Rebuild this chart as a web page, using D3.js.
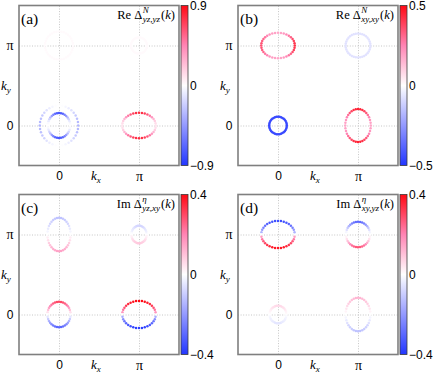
<!DOCTYPE html>
<html>
<head>
<meta charset="utf-8">
<script src="https://cdn.jsdelivr.net/npm/d3@7"></script>
<style>
  body { margin: 0; background: #fff; }
  svg text { font-family: "Liberation Sans", Arial, sans-serif; }
</style>
</head>
<body>
<svg id="chart" width="436" height="374"></svg>
<script>
/*
 * Data
 *****************************/
const panelIds = ["(a)", "(b)", "(c)", "(d)"];
const titleParts = ["Re", "Re", "Im", "Im"];
const titleSups = ["N", "N", "η", "η"];
const titleSubs = ["yz,yz", "xy,xy", "yz,xy", "xy,yz"];
const colorMax = [0.9, 0.5, 0.4, 0.4];
const kTicks = [0, 1];              // in units of pi
const kTickLabels = ["0", "π"];

// gap values along each pocket, every 10 degrees starting at +kx, counter clockwise
// panel (a)
const a_G_outer = [-0.32,-0.31,-0.28,-0.24,-0.19,-0.13,-0.08,-0.04,-0.01,0,-0.01,-0.04,-0.08,-0.13,-0.19,-0.24,-0.28,-0.31,
                   -0.32,-0.31,-0.28,-0.24,-0.19,-0.13,-0.08,-0.04,-0.01,0,-0.01,-0.04,-0.08,-0.13,-0.19,-0.24,-0.28,-0.31];
const a_G_inner = [0,-0.02,-0.09,-0.19,-0.31,-0.44,-0.56,-0.66,-0.73,-0.75,-0.73,-0.66,-0.56,-0.44,-0.31,-0.19,-0.09,-0.02,
                   0,-0.02,-0.09,-0.19,-0.31,-0.44,-0.56,-0.66,-0.73,-0.75,-0.73,-0.66,-0.56,-0.44,-0.31,-0.19,-0.09,-0.02];
const a_X = [0.1,0.12,0.18,0.27,0.38,0.5,0.61,0.7,0.76,0.78,0.76,0.7,0.61,0.5,0.38,0.27,0.18,0.12,
             0.1,0.12,0.18,0.27,0.38,0.5,0.61,0.7,0.76,0.78,0.76,0.7,0.61,0.5,0.38,0.27,0.18,0.12];
const a_Y = [0.02,0.02,0.02,0.02,0.02,0.02,0.02,0.02,0.02,0.02,0.02,0.02,0.02,0.02,0.02,0.02,0.02,0.02,
             0.02,0.02,0.02,0.02,0.02,0.02,0.02,0.02,0.02,0.02,0.02,0.02,0.02,0.02,0.02,0.02,0.02,0.02];
const a_M = [0.02,0.02,0.02,0.02,0.02,0.02,0.02,0.02,0.02,0.02,0.02,0.02,0.02,0.02,0.02,0.02,0.02,0.02,
             0.02,0.02,0.02,0.02,0.02,0.02,0.02,0.02,0.02,0.02,0.02,0.02,0.02,0.02,0.02,0.02,0.02,0.02];
// panel (b)
const b_Y = [0.42,0.41,0.39,0.36,0.32,0.28,0.24,0.21,0.19,0.18,0.19,0.2,0.22,0.25,0.28,0.31,0.33,0.35,
             0.35,0.35,0.33,0.31,0.28,0.25,0.22,0.2,0.19,0.18,0.19,0.21,0.24,0.28,0.32,0.36,0.39,0.41];
const b_M = [-0.07,-0.07,-0.07,-0.07,-0.07,-0.07,-0.07,-0.07,-0.07,-0.07,-0.07,-0.07,-0.07,-0.07,-0.07,-0.07,-0.07,-0.07,
             -0.07,-0.07,-0.07,-0.07,-0.07,-0.07,-0.07,-0.07,-0.07,-0.07,-0.07,-0.07,-0.07,-0.07,-0.07,-0.07,-0.07,-0.07];
const b_G = [-0.45,-0.45,-0.45,-0.45,-0.45,-0.45,-0.45,-0.45,-0.45,-0.45,-0.45,-0.45,-0.45,-0.45,-0.45,-0.45,-0.45,-0.45,
             -0.45,-0.45,-0.45,-0.45,-0.45,-0.45,-0.45,-0.45,-0.45,-0.45,-0.45,-0.45,-0.45,-0.45,-0.45,-0.45,-0.45,-0.45];
const b_X = [0.18,0.19,0.21,0.25,0.29,0.34,0.38,0.42,0.44,0.45,0.44,0.42,0.38,0.34,0.29,0.25,0.21,0.19,
             0.18,0.19,0.21,0.25,0.29,0.34,0.38,0.42,0.44,0.45,0.44,0.42,0.38,0.34,0.29,0.25,0.21,0.19];
// panel (c)
const c_Y = [0,-0.02,-0.04,-0.06,-0.08,-0.09,-0.1,-0.11,-0.12,-0.12,-0.12,-0.11,-0.1,-0.09,-0.08,-0.06,-0.04,-0.02,
             0,0.03,0.05,0.08,0.1,0.12,0.13,0.14,0.15,0.15,0.15,0.14,0.13,0.12,0.1,0.08,0.05,0.03];
const c_M = [0,-0.01,-0.03,-0.04,-0.05,-0.06,-0.07,-0.08,-0.08,-0.08,-0.08,-0.08,-0.07,-0.06,-0.05,-0.04,-0.03,-0.01,
             0,0.02,0.03,0.05,0.06,0.07,0.08,0.08,0.09,0.09,0.09,0.08,0.08,0.07,0.06,0.05,0.03,0.02];
const c_G = [0,0.05,0.1,0.15,0.19,0.23,0.26,0.28,0.3,0.3,0.3,0.28,0.26,0.23,0.19,0.15,0.1,0.05,
             0,-0.05,-0.1,-0.15,-0.19,-0.23,-0.26,-0.28,-0.3,-0.3,-0.3,-0.28,-0.26,-0.23,-0.19,-0.15,-0.1,-0.05];
const c_X = [0,0.17,0.23,0.28,0.32,0.35,0.37,0.39,0.4,0.4,0.4,0.39,0.37,0.35,0.32,0.28,0.23,0.17,
             0,-0.16,-0.22,-0.27,-0.3,-0.33,-0.35,-0.37,-0.38,-0.38,-0.38,-0.37,-0.35,-0.33,-0.3,-0.27,-0.22,-0.16];
// panel (d)
const d_Y = [0,-0.15,-0.2,-0.25,-0.28,-0.31,-0.33,-0.34,-0.35,-0.35,-0.35,-0.34,-0.33,-0.31,-0.28,-0.25,-0.2,-0.15,
             0,0.16,0.22,0.27,0.3,0.33,0.35,0.37,0.38,0.38,0.38,0.37,0.35,0.33,0.3,0.27,0.22,0.16];
const d_M = [0,-0.02,-0.06,-0.11,-0.15,-0.2,-0.24,-0.27,-0.29,-0.3,-0.29,-0.27,-0.24,-0.2,-0.15,-0.11,-0.06,-0.02,
             0,0.02,0.05,0.1,0.14,0.19,0.23,0.25,0.27,0.28,0.27,0.25,0.23,0.19,0.14,0.1,0.05,0.02];
const d_G = [0,0.01,0.02,0.03,0.04,0.05,0.05,0.06,0.06,0.06,0.06,0.06,0.05,0.05,0.04,0.03,0.02,0.01,
             0,-0.01,-0.02,-0.03,-0.03,-0.04,-0.04,-0.05,-0.05,-0.05,-0.05,-0.05,-0.04,-0.04,-0.03,-0.03,-0.02,-0.01];
const d_X = [0,0.02,0.04,0.06,0.08,0.09,0.1,0.11,0.12,0.12,0.12,0.11,0.1,0.09,0.08,0.06,0.04,0.02,
             0,-0.02,-0.04,-0.06,-0.08,-0.09,-0.1,-0.11,-0.12,-0.12,-0.12,-0.11,-0.1,-0.09,-0.08,-0.06,-0.04,-0.02];

// pockets: panel, centre (kx, ky) and half axes (rx, ry), all in units of pi
const pockets = [
  { panel: 0, kx: 0, ky: 0, rx: 0.24, ry: 0.25, values: a_G_outer },
  { panel: 0, kx: 0, ky: 0, rx: 0.14, ry: 0.155, values: a_G_inner },
  { panel: 0, kx: 1, ky: 0, rx: 0.21, ry: 0.16, values: a_X },
  { panel: 0, kx: 0, ky: 1, rx: 0.175, ry: 0.175, values: a_Y },
  { panel: 0, kx: 1, ky: 1, rx: 0.1, ry: 0.1, values: a_M },
  { panel: 1, kx: 0, ky: 1, rx: 0.21, ry: 0.16, values: b_Y },
  { panel: 1, kx: 1, ky: 1, rx: 0.155, ry: 0.15, values: b_M },
  { panel: 1, kx: 0, ky: 0, rx: 0.11, ry: 0.11, values: b_G },
  { panel: 1, kx: 1, ky: 0, rx: 0.16, ry: 0.205, values: b_X },
  { panel: 2, kx: 0, ky: 1, rx: 0.145, ry: 0.21, values: c_Y },
  { panel: 2, kx: 1, ky: 1, rx: 0.095, ry: 0.11, values: c_M },
  { panel: 2, kx: 0, ky: 0, rx: 0.145, ry: 0.16, values: c_G },
  { panel: 2, kx: 1, ky: 0, rx: 0.21, ry: 0.17, values: c_X },
  { panel: 3, kx: 0, ky: 1, rx: 0.21, ry: 0.17, values: d_Y },
  { panel: 3, kx: 1, ky: 1, rx: 0.15, ry: 0.16, values: d_M },
  { panel: 3, kx: 0, ky: 0, rx: 0.105, ry: 0.11, values: d_G },
  { panel: 3, kx: 1, ky: 0, rx: 0.155, ry: 0.21, values: d_X }
];

/*
 * Layout
 *****************************/
const svg = d3.select("#chart");
const boxSize = 160;
const origins = [[19, 5.5], [238, 5.5], [19, 194.5], [238, 194.5]];
const cbGap = 2, cbWidth = 7;
const SERIF = '"Liberation Serif", "DejaVu Serif", serif';
const SANS = '"Liberation Sans", Arial, sans-serif';

const xScale = d3.scaleLinear().domain([-0.5, 1.5]).range([0, boxSize]);
const yScale = d3.scaleLinear().domain([-0.5, 1.5]).range([boxSize, 0]);

const colorStops = ["#2236ff", "#9399ff", "#ffffff", "#ff84b4", "#ff0a14"];
const colorFor = m => d3.scaleLinear()
  .domain([-m, -m / 2, 0, m / 2, m])
  .range(colorStops)
  .clamp(true);

const defs = svg.append("defs");

panelIds.forEach((label, p) => {
  const g = svg.append("g").attr("transform", `translate(${origins[p][0]},${origins[p][1]})`);
  const color = colorFor(colorMax[p]);

  // dotted grid at 0 and pi
  const gridX = g.append("g").attr("transform", `translate(0,${boxSize})`)
    .call(d3.axisBottom(xScale).tickValues(kTicks).tickSize(-boxSize).tickFormat(""));
  const gridY = g.append("g")
    .call(d3.axisLeft(yScale).tickValues(kTicks).tickSize(-boxSize).tickFormat(""));
  [gridX, gridY].forEach(a => {
    a.select(".domain").remove();
    a.selectAll("line").attr("stroke", "#c6c6c6").attr("stroke-dasharray", "1,1.6");
  });

  // pockets
  pockets.filter(d => d.panel === p).forEach(pk => {
    const n = pk.values.length;
    g.append("g").selectAll("circle")
      .data(pk.values)
      .join("circle")
      .attr("cx", (v, i) => xScale(pk.kx + pk.rx * Math.cos(2 * Math.PI * i / n)))
      .attr("cy", (v, i) => yScale(pk.ky + pk.ry * Math.sin(2 * Math.PI * i / n)))
      .attr("r", 1.25)
      .attr("fill", v => color(v));
  });

  // frame
  g.append("rect")
    .attr("width", boxSize).attr("height", boxSize)
    .attr("fill", "none").attr("stroke", "#7f7f7f").attr("stroke-width", 1.6);

  // tick labels
  const axX = g.append("g").attr("transform", `translate(0,${boxSize})`)
    .call(d3.axisBottom(xScale).tickValues(kTicks).tickSize(0).tickPadding(6)
      .tickFormat((d, i) => kTickLabels[i]));
  const axY = g.append("g")
    .call(d3.axisLeft(yScale).tickValues(kTicks).tickSize(0).tickPadding(5.5)
      .tickFormat((d, i) => kTickLabels[i]));
  [axX, axY].forEach(a => {
    a.select(".domain").remove();
    a.selectAll("text")
      .attr("fill", "#000")
      .style("font-family", d => d ? SERIF : SANS)
      .style("font-size", d => d ? "14px" : "12px");
  });

  // k_x, k_y
  const kx = g.append("text").attr("x", 72).attr("y", boxSize + 14.5)
    .style("font-family", SERIF).style("font-size", "13px").style("font-style", "italic");
  kx.append("tspan").text("k");
  kx.append("tspan").attr("dy", 2.5).style("font-size", "9px").text("x");
  const ky = g.append("text").attr("x", -18).attr("y", 84)
    .style("font-family", SERIF).style("font-size", "13px").style("font-style", "italic");
  ky.append("tspan").text("k");
  ky.append("tspan").attr("dy", 3).style("font-size", "9px").text("y");

  // panel label
  g.append("text").attr("x", 2).attr("y", 18)
    .style("font-family", SERIF).style("font-size", "15.5px")
    .text(label);

  // title: Re/Im Delta^sup_sub(k), right aligned
  const tg = g.append("g");
  const t1 = tg.append("text").attr("x", 0).attr("y", 0)
    .style("font-family", SERIF).style("font-size", "12.5px")
    .text(titleParts[p] + " Δ");
  const w1 = t1.node().getComputedTextLength() + 0.5;
  const sup = tg.append("text").attr("x", w1).attr("y", -5.5)
    .style("font-family", SERIF).style("font-size", "9px").style("font-style", "italic")
    .text(titleSups[p]);
  const sub = tg.append("text").attr("x", w1).attr("y", 3.5)
    .style("font-family", SERIF).style("font-size", "9px").style("font-style", "italic")
    .text(titleSubs[p]);
  const w2 = Math.max(sup.node().getComputedTextLength(), sub.node().getComputedTextLength()) + 1;
  const t4 = tg.append("text").attr("x", w1 + w2).attr("y", 0)
    .style("font-family", SERIF).style("font-size", "12.5px");
  t4.append("tspan").text("(");
  t4.append("tspan").style("font-style", "italic").text("k");
  t4.append("tspan").text(")");
  const tw = w1 + w2 + t4.node().getComputedTextLength();
  tg.attr("transform", `translate(${boxSize - 4 - tw},13)`);

  // colorbar
  const gid = "cb" + p;
  const grad = defs.append("linearGradient").attr("id", gid)
    .attr("x1", 0).attr("y1", 1).attr("x2", 0).attr("y2", 0);
  d3.range(0, 1.0001, 0.05).forEach(t => {
    grad.append("stop").attr("offset", t)
      .attr("stop-color", color(-colorMax[p] + 2 * colorMax[p] * t));
  });
  const cbScale = d3.scaleLinear().domain([-colorMax[p], colorMax[p]]).range([boxSize, 0]);
  const cb = g.append("g").attr("transform", `translate(${boxSize + cbGap},0)`);
  cb.append("rect").attr("width", cbWidth).attr("height", boxSize)
    .attr("fill", `url(#${gid})`).attr("stroke", "#3a3a3a").attr("stroke-width", 0.8);
  const cbAxis = cb.append("g").attr("transform", `translate(${cbWidth},0)`)
    .call(d3.axisRight(cbScale)
      .tickValues([-colorMax[p], 0, colorMax[p]])
      .tickSize(0).tickPadding(2)
      .tickFormat(d => d === 0 ? "0" : d3.format(".1f")(d)));
  cbAxis.select(".domain").remove();
  cbAxis.selectAll("text").attr("fill", "#000")
    .style("font-family", SANS).style("font-size", "12px");
});
</script>
</body>
</html>
